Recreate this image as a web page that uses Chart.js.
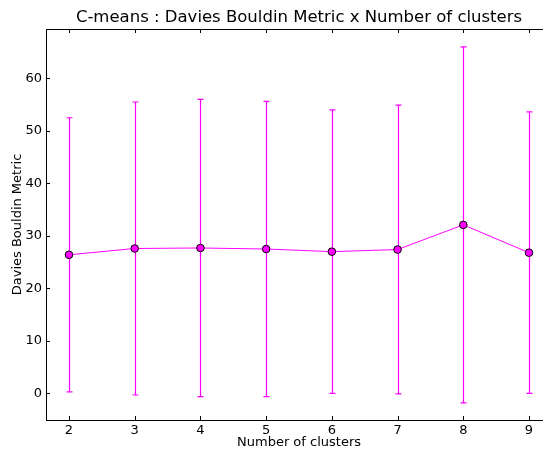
<!DOCTYPE html>
<html>
<head>
<meta charset="utf-8">
<script src="https://cdn.jsdelivr.net/npm/chart.js@4"></script>
<style>
  html, body { margin: 0; padding: 0; background: #fff; }
  #wrap { width: 543px; height: 450px; overflow: hidden; }
</style>
</head>
<body>
<div id="wrap"><canvas id="chart" width="557" height="450"></canvas></div>
<script>
const clusters = [2, 3, 4, 5, 6, 7, 8, 9];
const dbMean = [26.4, 27.6, 27.7, 27.5, 27.0, 27.4, 32.1, 26.8];
const dbError = [26.1, 27.9, 28.3, 28.1, 27.0, 27.5, 33.9, 26.8];
const xTicks = [2, 3, 4, 5, 6, 7, 8, 9];
const yTicks = [0, 10, 20, 30, 40, 50, 60];

const MAGENTA = '#ff00ff';
const FONT = "'DejaVu Sans', sans-serif";

// vertical error bars with small caps, drawn under the line
const errorBars = {
    id: 'errorBars',
    beforeDatasetsDraw(chart) {
        const ctx = chart.ctx;
        const x = chart.scales.x, y = chart.scales.y;
        ctx.save();
        ctx.strokeStyle = MAGENTA;
        ctx.lineWidth = 1.2;
        for (let i = 0; i < clusters.length; i++) {
            const px = Math.round(x.getPixelForValue(clusters[i])) + 0.5;
            const top = y.getPixelForValue(dbMean[i] + dbError[i]);
            const bot = y.getPixelForValue(dbMean[i] - dbError[i]);
            ctx.beginPath();
            ctx.moveTo(px, top);
            ctx.lineTo(px, bot);
            ctx.moveTo(px - 3, top);
            ctx.lineTo(px + 3, top);
            ctx.moveTo(px - 3, bot);
            ctx.lineTo(px + 3, bot);
            ctx.stroke();
        }
        ctx.restore();
    }
};

// frame around the axes plus inward tick marks
const frameTicks = {
    id: 'frameTicks',
    afterDraw(chart) {
        const ctx = chart.ctx;
        const a = chart.chartArea;
        const x = chart.scales.x, y = chart.scales.y;
        ctx.save();
        ctx.strokeStyle = '#000';
        ctx.lineWidth = 1;
        ctx.strokeRect(Math.round(a.left) + 0.5, Math.round(a.top) + 0.5,
                       Math.round(a.right - a.left), Math.round(a.bottom - a.top));
        ctx.beginPath();
        xTicks.forEach(v => {
            const px = Math.round(x.getPixelForValue(v)) + 0.5;
            ctx.moveTo(px, a.bottom);
            ctx.lineTo(px, a.bottom - 4);
            ctx.moveTo(px, a.top);
            ctx.lineTo(px, a.top + 4);
        });
        yTicks.forEach(v => {
            const py = Math.round(y.getPixelForValue(v)) + 0.5;
            ctx.moveTo(a.left, py);
            ctx.lineTo(a.left + 4, py);
            ctx.moveTo(a.right, py);
            ctx.lineTo(a.right - 4, py);
        });
        ctx.stroke();
        ctx.restore();
    }
};

new Chart(document.getElementById('chart'), {
    type: 'line',
    data: {
        datasets: [{
            data: clusters.map((c, i) => ({ x: c, y: dbMean[i] })),
            borderColor: MAGENTA,
            borderWidth: 1,
            backgroundColor: MAGENTA,
            pointBackgroundColor: MAGENTA,
            pointBorderColor: '#000',
            pointBorderWidth: 1,
            pointRadius: 3.8,
            tension: 0
        }]
    },
    options: {
        responsive: false,
        animation: false,
        devicePixelRatio: 1,
        layout: { padding: 0 },
        plugins: {
            legend: { display: false },
            tooltip: { enabled: false },
            title: {
                display: true,
                fullSize: false,
                text: 'C-means : Davies Bouldin Metric x Number of clusters',
                color: '#000',
                font: { family: FONT, size: 16.5, weight: 'normal' },
                padding: { top: 8, bottom: 1.2 }
            }
        },
        scales: {
            x: {
                type: 'linear',
                min: 1.65,
                max: 9.35,
                afterBuildTicks: s => { s.ticks = xTicks.map(v => ({ value: v })); },
                afterFit: s => { s.height = 30; },
                grid: { display: false, drawTicks: false },
                border: { display: false },
                ticks: { color: '#000', padding: 3, font: { family: FONT, size: 13 } },
                title: {
                    display: true,
                    text: 'Number of clusters',
                    color: '#000',
                    font: { family: FONT, size: 13 },
                    padding: 0
                }
            },
            y: {
                type: 'linear',
                min: -5.06,
                max: 69.4,
                afterBuildTicks: s => { s.ticks = yTicks.map(v => ({ value: v })); },
                afterFit: s => { s.width = 46; },
                grid: { display: false, drawTicks: false },
                border: { display: false },
                ticks: { color: '#000', padding: 4, font: { family: FONT, size: 13 } },
                title: {
                    display: true,
                    text: 'Davies Bouldin Metric',
                    color: '#000',
                    font: { family: FONT, size: 13 },
                    padding: { top: 10, bottom: 0 }
                }
            }
        }
    },
    plugins: [errorBars, frameTicks]
});
</script>
</body>
</html>
